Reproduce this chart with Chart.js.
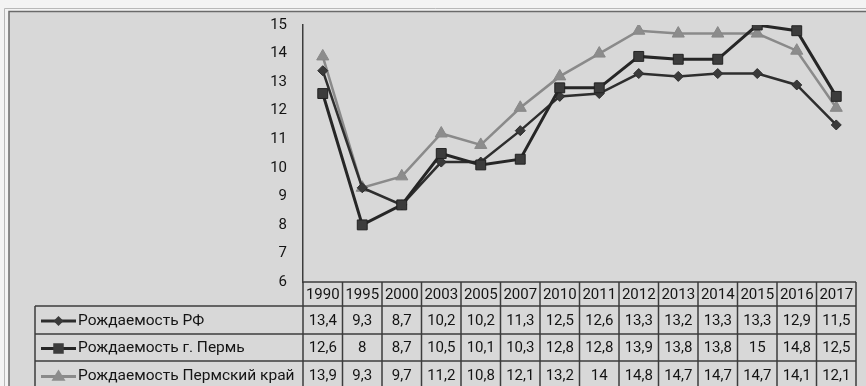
<!DOCTYPE html>
<html>
<head>
<meta charset="utf-8">
<script src="https://cdn.jsdelivr.net/npm/chart.js@4"></script>
<style>
  html, body { margin: 0; padding: 0; background: #f2f2f2; }
  #wrap { width: 866px; height: 386px; }
</style>
</head>
<body>
<div id="wrap"><canvas id="birthChart" width="866" height="386"></canvas></div>
<script>
const years = ['1990', '1995', '2000', '2003', '2005', '2007', '2010', '2011', '2012', '2013', '2014', '2015', '2016', '2017'];
const rateRF = [13.4, 9.3, 8.7, 10.2, 10.2, 11.3, 12.5, 12.6, 13.3, 13.2, 13.3, 13.3, 12.9, 11.5];
const ratePerm = [12.6, 8, 8.7, 10.5, 10.1, 10.3, 12.8, 12.8, 13.9, 13.8, 13.8, 15, 14.8, 12.5];
const rateKrai = [13.9, 9.3, 9.7, 11.2, 10.8, 12.1, 13.2, 14, 14.8, 14.7, 14.7, 14.7, 14.1, 12.1];
const yMin = 6;
const yMax = 15;

const FONT = 'Roboto, "Noto Sans", sans-serif';
const INK = '#141414';

// background, frame and the data table underneath the plot
const tablePlugin = {
    id: 'dataTable',
    beforeDraw(chart) {
        const c = chart.ctx;
        c.save();
        c.fillStyle = '#f3f3f3';
        c.fillRect(0, 0, chart.width, chart.height);
        c.fillStyle = '#d8d8d8';
        c.fillRect(9, 11, chart.width - 9, chart.height - 11);
        c.strokeStyle = '#b8b8b8';
        c.lineWidth = 1;
        c.beginPath();
        c.moveTo(4.5, chart.height);
        c.lineTo(4.5, 8.5);
        c.lineTo(chart.width, 8.5);
        c.stroke();
        c.strokeStyle = '#6a6a6a';
        c.lineWidth = 1.5;
        c.beginPath();
        c.moveTo(9, chart.height);
        c.lineTo(9, 11.5);
        c.lineTo(chart.width, 11.5);
        c.stroke();
        c.restore();
    },
    afterDraw(chart) {
        const c = chart.ctx;
        const xs = chart.scales.x;
        const area = chart.chartArea;
        const step = xs.getPixelForValue(1) - xs.getPixelForValue(0);
        const left = xs.getPixelForValue(0) - step / 2;
        const right = xs.getPixelForValue(years.length - 1) + step / 2;
        const legendLeft = 35;
        const rows = [area.bottom, 306, 334, 361, 390];

        c.save();
        c.strokeStyle = '#3c3c3c';
        c.lineWidth = 1.5;
        c.beginPath();
        // header row spans the category columns only
        c.moveTo(left, rows[0]); c.lineTo(right, rows[0]);
        for (let r = 1; r < rows.length; r++) {
            c.moveTo(legendLeft, rows[r]); c.lineTo(right, rows[r]);
        }
        c.moveTo(legendLeft, rows[1]); c.lineTo(legendLeft, rows[4]);
        for (let i = 0; i <= years.length; i++) {
            const x = left + i * step;
            c.moveTo(x, rows[0]); c.lineTo(x, rows[4]);
        }
        c.stroke();

        c.fillStyle = INK;
        c.font = '15px ' + FONT;
        c.textAlign = 'center';
        c.textBaseline = 'middle';
        years.forEach((y, i) => {
            c.fillText(y, xs.getPixelForValue(i), (rows[0] + rows[1]) / 2 + 1);
        });

        chart.data.datasets.forEach((ds, r) => {
            const cy = (rows[r + 1] + rows[r + 2]) / 2 + 1;
            c.textAlign = 'center';
            c.fillStyle = INK;
            c.font = '15px ' + FONT;
            ds.data.forEach((v, i) => {
                c.fillText(String(v).replace('.', ','), xs.getPixelForValue(i), cy);
            });

            // legend key: short line with the series marker
            c.strokeStyle = ds.borderColor;
            c.lineWidth = 3;
            c.beginPath();
            c.moveTo(41, cy); c.lineTo(76, cy);
            c.stroke();
            c.fillStyle = ds.pointBackgroundColor;
            const s = ds.pointRadius;
            c.beginPath();
            if (ds.pointStyle === 'rect') {
                c.rect(58.5 - s * 0.75, cy - s * 0.75, s * 1.5, s * 1.5);
            } else if (ds.pointStyle === 'rectRot') {
                c.moveTo(58.5, cy - s); c.lineTo(58.5 + s, cy); c.lineTo(58.5, cy + s); c.lineTo(58.5 - s, cy);
            } else {
                c.moveTo(58.5, cy - s); c.lineTo(58.5 + s, cy + s * 0.6); c.lineTo(58.5 - s, cy + s * 0.6);
            }
            c.closePath();
            c.fill();

            c.fillStyle = INK;
            c.textAlign = 'left';
            c.font = '15.5px ' + FONT;
            c.fillText(ds.label, 78, cy);
        });
        c.restore();
    }
};

const ctx = document.getElementById('birthChart').getContext('2d');
const birthChart = new Chart(ctx, {
    type: 'line',
    data: {
        labels: years,
        datasets: [
            {
                label: 'Рождаемость РФ',
                data: rateRF,
                borderColor: '#2e2e2e',
                borderWidth: 2.5,
                pointStyle: 'rectRot',
                pointRadius: 5,
                pointBackgroundColor: '#3a3a3a',
                pointBorderColor: '#2e2e2e',
                pointBorderWidth: 1,
                tension: 0,
                order: 2
            },
            {
                label: 'Рождаемость г. Пермь',
                data: ratePerm,
                borderColor: '#262626',
                borderWidth: 3,
                pointStyle: 'rect',
                pointRadius: 7,
                pointBackgroundColor: '#3c3c3c',
                pointBorderColor: '#222222',
                pointBorderWidth: 1,
                tension: 0,
                order: 1
            },
            {
                label: 'Рождаемость Пермский край',
                data: rateKrai,
                borderColor: '#8a8a8a',
                borderWidth: 2.5,
                pointStyle: 'triangle',
                pointRadius: 7,
                pointBackgroundColor: '#8c8c8c',
                pointBorderColor: '#888888',
                pointBorderWidth: 1,
                tension: 0,
                order: 3
            }
        ]
    },
    options: {
        responsive: false,
        animation: false,
        layout: { padding: { left: 263, right: 10, top: 22, bottom: 104 } },
        plugins: {
            legend: { display: false },
            tooltip: { enabled: false }
        },
        scales: {
            x: {
                display: false,
                offset: true
            },
            y: {
                min: yMin,
                max: yMax,
                afterFit(scale) { scale.width = 40; },
                border: { display: true, color: '#3c3c3c', width: 1.5 },
                grid: { drawOnChartArea: false, drawTicks: false },
                ticks: {
                    stepSize: 1,
                    padding: 16,
                    color: INK,
                    font: { family: FONT, size: 15 }
                }
            }
        }
    },
    plugins: [tablePlugin]
});
</script>
</body>
</html>
